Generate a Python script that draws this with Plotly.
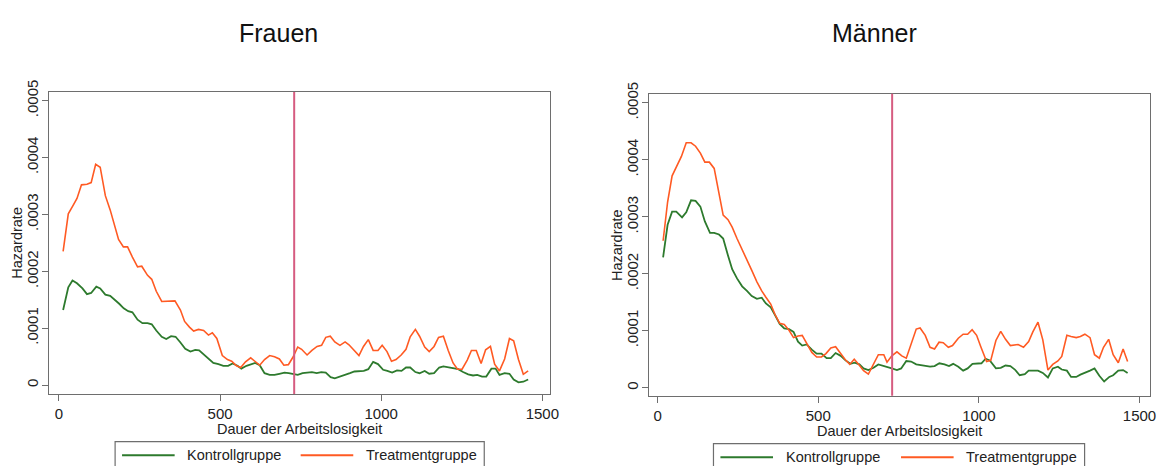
import plotly.graph_objects as go

W, H = 1171, 466
FONT = "Liberation Sans, Arial, sans-serif"

GREEN = "#2d7a2d"
ORANGE = "#ff5a23"
CUT_COLOR = "#d65c80"
AXIS_COLOR = "#6e6e6e"
TEXT_COLOR = "#222222"

CUTOFF_DAY = 730

# ---------------- Frauen ----------------
f_treat_day = [13, 29, 44, 56, 70, 87, 100, 114, 128, 144, 159, 172, 185, 200, 213, 228, 244, 257, 275, 288,
               302, 319, 336, 360, 377, 390, 405, 418, 433, 449, 464, 476, 490, 507, 523, 536, 551, 564, 579, 595,
               608, 623, 638, 654, 669, 684, 698, 712, 726, 741, 753, 770, 785, 801, 815, 828, 842, 856, 872, 888,
               900, 916, 931, 945, 960, 975, 990, 1003, 1018, 1032, 1046, 1062, 1077, 1090, 1106, 1119, 1135, 1149,
               1164, 1178, 1193, 1208, 1223, 1237, 1251, 1267, 1280, 1295, 1310, 1324, 1339, 1352, 1367, 1383, 1398,
               1411, 1426, 1441, 1456]
f_treat_haz = [.000235, .000301, .000316, .000328, .000352, .000353, .000356, .000388, .000383, .000333,
               .000308, .000282, .000256, .000243, .000243, .000225, .000208, .000209, .000193, .000186,
               .000165, .000147, .000147, .000148, .000132, .000112, .000102, .000095, .000098, .000096,
               .000088, .000092, .000082, .000052, .000045, .000042, .000034, .000031, .000041, .000048,
               .000042, .000035, .000045, .000052, .000050, .000046, .000035, .000036, .000049, .000067,
               .000063, .000053, .000061, .000068, .000070, .000084, .000086, .000076, .000070, .000076,
               .000071, .000061, .000052, .000068, .000080, .000061, .000061, .000070, .000059, .000042,
               .000045, .000053, .000063, .000085, .000098, .000086, .000067, .000059, .000068, .000084,
               .000086, .000061, .000039, .000028, .000028, .000044, .000061, .000061, .000038, .000062,
               .000068, .000037, .000025, .000046, .000082, .000078, .000045, .000019, .000025]

f_ctrl_day = [13, 29, 42, 56, 73, 87, 100, 116, 128, 144, 159, 172, 187, 201, 215, 228, 244, 259, 275, 288,
              302, 319, 333, 348, 362, 377, 392, 408, 423, 435, 449, 464, 479, 495, 510, 525, 539, 554, 566, 582,
              595, 609, 623, 638, 654, 669, 684, 700, 713, 728, 741, 756, 772, 785, 800, 814, 828, 843, 856, 872,
              888, 903, 917, 931, 946, 960, 975, 990, 1006, 1019, 1034, 1049, 1063, 1077, 1090, 1106, 1119, 1135,
              1149, 1164, 1180, 1193, 1208, 1223, 1239, 1254, 1270, 1285, 1298, 1313, 1326, 1342, 1355, 1367,
              1383, 1398, 1411, 1426, 1441, 1456]
f_ctrl_haz = [.000132, .000172, .000184, .000179, .000170, .000160, .000162, .000173, .000170, .000159,
              .000157, .000151, .000143, .000135, .000130, .000128, .000115, .000109, .000109, .000107,
              .000096, .000085, .000081, .000086, .000085, .000075, .000064, .000059, .000062, .000061,
              .000054, .000046, .000039, .000037, .000034, .000034, .000038, .000034, .000029, .000034,
              .000037, .000039, .000035, .000021, .000018, .000018, .000020, .000022, .000021, .000019,
              .000018, .000021, .000022, .000023, .000021, .000023, .000022, .000014, .000012, .000015,
              .000017, .000021, .000024, .000025, .000025, .000028, .000041, .000037, .000027, .000025,
              .000022, .000026, .000025, .000031, .000031, .000023, .000021, .000025, .000020, .000021,
              .000031, .000033, .000031, .000029, .000028, .000023, .000019, .000017, .000018, .000015,
              .000015, .000029, .000029, .000018, .000021, .000020, .000010, .000005, .000006, .000010]

# ---------------- Männer ----------------
m_treat_day = [17, 31, 45, 58, 74, 89, 104, 118, 133, 147, 161, 176, 191, 204, 219, 232, 247, 263, 278, 293,
               309, 324, 337, 352, 365, 380, 394, 409, 423, 437, 450, 464, 480, 495, 510, 524, 539, 554, 567, 583,
               598, 612, 626, 641, 656, 672, 687, 704, 714, 729, 745, 760, 774, 805, 817, 833, 848, 862, 876, 889,
               905, 918, 936, 951, 965, 979, 993, 1006, 1024, 1037, 1053, 1068, 1083, 1098, 1122, 1139, 1155, 1168,
               1184, 1199, 1215, 1230, 1246, 1258, 1274, 1287, 1303, 1316, 1330, 1346, 1360, 1375, 1388, 1404,
               1418, 1434, 1449, 1463]
m_treat_haz = [.000258, .000326, .000372, .000386, .000406, .000430, .000430, .000424, .000412, .000396,
               .000396, .000385, .000342, .000303, .000295, .000282, .000262, .000243, .000226, .000206,
               .000186, .000170, .000159, .000147, .000129, .000113, .000111, .000101, .000088, .000091,
               .000092, .000079, .000062, .000054, .000054, .000060, .000070, .000072, .000062, .000050,
               .000041, .000050, .000041, .000030, .000024, .000041, .000058, .000058, .000045, .000056,
               .000063, .000056, .000052, .000103, .000105, .000092, .000071, .000068, .000080, .000079,
               .000071, .000074, .000087, .000094, .000094, .000102, .000092, .000072, .000046, .000048,
               .000083, .000099, .000085, .000074, .000076, .000071, .000081, .000098, .000115, .000084,
               .000031, .000041, .000047, .000055, .000092, .000090, .000088, .000090, .000094, .000088,
               .000058, .000052, .000071, .000085, .000058, .000044, .000068, .000046]

m_ctrl_day = [17, 31, 45, 58, 76, 89, 104, 118, 133, 147, 163, 176, 191, 204, 219, 232, 247, 263, 278, 293,
              309, 324, 337, 352, 365, 380, 394, 409, 423, 437, 450, 464, 480, 495, 510, 526, 539, 554, 570, 585,
              600, 613, 628, 641, 656, 672, 687, 714, 729, 745, 758, 774, 789, 805, 833, 848, 862, 877, 893, 907,
              920, 936, 951, 965, 980, 996, 1008, 1021, 1034, 1053, 1068, 1083, 1098, 1112, 1127, 1143, 1155, 1168,
              1184, 1199, 1215, 1230, 1246, 1258, 1274, 1287, 1303, 1316, 1330, 1346, 1360, 1375, 1390, 1406,
              1418, 1434, 1449, 1463]
m_ctrl_haz = [.000229, .000286, .000309, .000309, .000299, .000308, .000329, .000328, .000318, .000292,
              .000272, .000272, .000269, .000262, .000232, .000208, .000192, .000178, .000170, .000161,
              .000156, .000158, .000148, .000141, .000128, .000112, .000104, .000103, .000098, .000081,
              .000074, .000076, .000067, .000060, .000060, .000052, .000052, .000061, .000056, .000048,
              .000042, .000044, .000041, .000034, .000031, .000035, .000041, .000037, .000034, .000031,
              .000034, .000047, .000046, .000041, .000039, .000037, .000038, .000043, .000041, .000038,
              .000042, .000037, .000030, .000034, .000042, .000042, .000043, .000051, .000048, .000034,
              .000035, .000039, .000038, .000032, .000022, .000024, .000030, .000030, .000030, .000026,
              .000018, .000034, .000037, .000032, .000030, .000019, .000019, .000023, .000026, .000030,
              .000034, .000021, .000011, .000019, .000022, .000030, .000031, .000026]

PANEL_TITLES = ["Frauen", "Männer"]
SERIES_NAMES = ["Kontrollgruppe", "Treatmentgruppe"]
SERIES_COLORS = [GREEN, ORANGE]
X_TICKS = [0, 500, 1000, 1500]
X_TICK_TEXT = ["0", "500", "1000", "1500"]
Y_TICKS = [0, .0001, .0002, .0003, .0004, .0005]
Y_TICK_TEXT = ["0", ".0001", ".0002", ".0003", ".0004", ".0005"]
X_TITLE = "Dauer der Arbeitslosigkeit"
Y_TITLE = "Hazardrate"


def px_x(p):
    return p / W


def px_y(p):
    return 1 - p / H


# layout of each panel in pixels
boxes = [(49, 554, 82, 392), (654, 1159, 84, 394)]      # plot box: left, right, top, bottom
title_centers = [281, 881]
x_title_y = [428, 430]
x_ranges = [[-32, 1523], [-27, 1533]]
y_ranges = [[-0.0000154, 0.0005154], [-0.0000142, 0.0005159]]
# legend frame (left, right, top) and key layout (line start, text start, line start, text start)
legend_frames = [(116, 488, 441), (719, 1093, 443)]
legend_keys = [(123, 186, 303, 367), (726, 790, 908, 971)]
LEGEND_LINE_LEN = 53
LEGEND_ROW_Y = [455, 457]

fig = go.Figure()

panels = [
    (f_ctrl_day, f_ctrl_haz, f_treat_day, f_treat_haz),
    (m_ctrl_day, m_ctrl_haz, m_treat_day, m_treat_haz),
]

for i, (cd, ch, td, th) in enumerate(panels):
    xa = "x" if i == 0 else "x2"
    ya = "y" if i == 0 else "y2"
    fig.add_trace(go.Scatter(x=cd, y=ch, mode="lines", name=SERIES_NAMES[0],
                             line=dict(color=GREEN, width=1.8), xaxis=xa, yaxis=ya))
    fig.add_trace(go.Scatter(x=td, y=th, mode="lines", name=SERIES_NAMES[1],
                             line=dict(color=ORANGE, width=1.6), xaxis=xa, yaxis=ya))

layout = dict(
    width=W, height=H,
    margin=dict(l=0, r=0, t=0, b=0),
    paper_bgcolor="white", plot_bgcolor="white",
    font=dict(family=FONT, size=15, color=TEXT_COLOR),
    showlegend=False,
    annotations=[],
    shapes=[],
)

for i in range(2):
    l, r, t, b = boxes[i]
    suffix = "" if i == 0 else "2"
    layout["xaxis" + suffix] = dict(
        domain=[px_x(l), px_x(r)], range=x_ranges[i], anchor="y" + suffix,
        tickvals=X_TICKS, ticktext=X_TICK_TEXT, ticks="outside", ticklen=6,
        tickcolor=AXIS_COLOR, showline=True, linecolor=AXIS_COLOR, linewidth=1.2,
        mirror=True, showgrid=False, zeroline=False,
        tickfont=dict(size=15, color=TEXT_COLOR),
    )
    layout["yaxis" + suffix] = dict(
        domain=[px_y(b), px_y(t)], range=y_ranges[i], anchor="x" + suffix,
        tickvals=Y_TICKS, ticktext=Y_TICK_TEXT, ticks="outside", ticklen=6,
        tickcolor=AXIS_COLOR, showline=True, linecolor=AXIS_COLOR, linewidth=1.2,
        mirror=True, showgrid=False, zeroline=False, tickangle=-90, ticklabelstandoff=-2,
        tickfont=dict(size=15, color=TEXT_COLOR),
    )
    # panel title
    layout["annotations"].append(dict(
        text=PANEL_TITLES[i], xref="paper", yref="paper",
        x=px_x(title_centers[i]), y=px_y(22), xanchor="center", yanchor="middle",
        showarrow=False, font=dict(size=25, color="#111111"),
    ))
    # axis titles
    layout["annotations"].append(dict(
        text=X_TITLE, xref="paper", yref="paper",
        x=px_x((l + r) / 2), y=px_y(x_title_y[i]), xanchor="center", yanchor="middle",
        showarrow=False, font=dict(size=14.5, color=TEXT_COLOR),
    ))
    layout["annotations"].append(dict(
        text=Y_TITLE, xref="paper", yref="paper", textangle=-90,
        x=px_x(l - 32), y=px_y((t + b) / 2), xanchor="center", yanchor="middle",
        showarrow=False, font=dict(size=14.5, color=TEXT_COLOR),
    ))
    # vertical line marking the end of the second year
    layout["shapes"].append(dict(
        type="line", xref="x" + suffix, yref="y" + suffix + " domain",
        x0=CUTOFF_DAY, x1=CUTOFF_DAY, y0=0, y1=1,
        line=dict(color=CUT_COLOR, width=2),
    ))
    # legend frame and keys
    fl, fr, ft = legend_frames[i]
    layout["shapes"].append(dict(
        type="rect", xref="paper", yref="paper",
        x0=px_x(fl), x1=px_x(fr), y0=px_y(ft), y1=px_y(H + 10),
        line=dict(color=AXIS_COLOR, width=1.2), fillcolor="rgba(0,0,0,0)",
    ))
    keys = legend_keys[i]
    row_y = LEGEND_ROW_Y[i]
    for k in range(2):
        line_x = keys[2 * k]
        text_x = keys[2 * k + 1]
        layout["shapes"].append(dict(
            type="line", xref="paper", yref="paper",
            x0=px_x(line_x), x1=px_x(line_x + LEGEND_LINE_LEN), y0=px_y(row_y), y1=px_y(row_y),
            line=dict(color=SERIES_COLORS[k], width=2),
        ))
        layout["annotations"].append(dict(
            text=SERIES_NAMES[k], xref="paper", yref="paper",
            x=px_x(text_x), y=px_y(row_y), xanchor="left", yanchor="middle",
            showarrow=False, font=dict(size=14.5, color=TEXT_COLOR),
        ))

fig.update_layout(**layout)
fig.write_html("out.html")
